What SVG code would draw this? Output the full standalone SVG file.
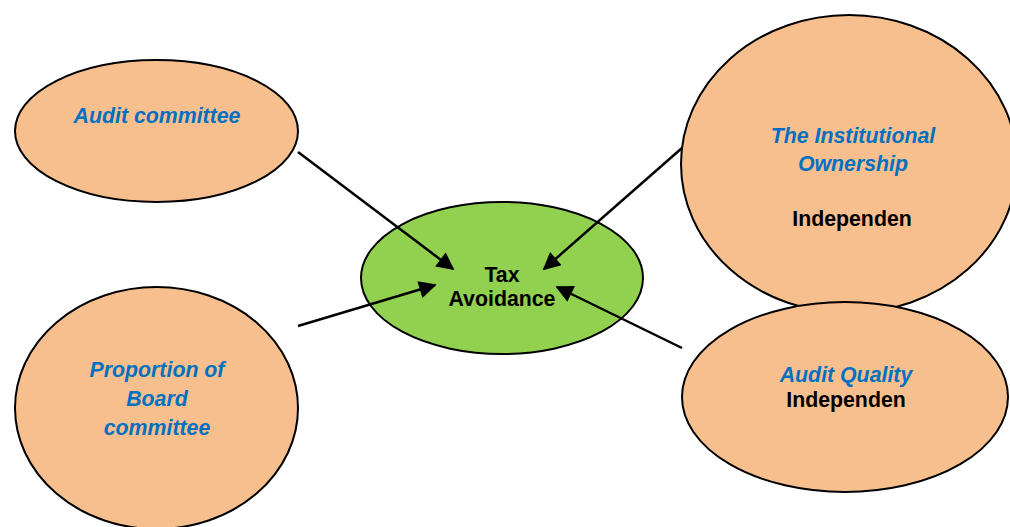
<svg xmlns="http://www.w3.org/2000/svg" width="1010" height="527" viewBox="0 0 1010 527">
<defs>
<style>
.orange{fill:#F8BF8E;stroke:#000;stroke-width:2}
.green{fill:#92D050;stroke:#000;stroke-width:2}
.blue{font-family:"Liberation Sans",Arial,sans-serif;font-size:21.3px;font-weight:bold;font-style:italic;fill:#0070C0;text-anchor:middle}
.black{font-family:"Liberation Sans",Arial,sans-serif;font-size:21.3px;font-weight:bold;fill:#000;text-anchor:middle}
.conn{stroke:#000;stroke-width:2.5;fill:none;marker-end:url(#ah)}
</style>
<marker id="ah" viewBox="0 0 10 10" refX="9" refY="5" markerWidth="8" markerHeight="7" markerUnits="strokeWidth" orient="auto">
<path d="M0,0 L10,5 L0,10 z" fill="#000"/>
</marker>
</defs>
<rect width="1010" height="527" fill="#fff"/>
<g id="node-audit-committee">
<ellipse class="orange" cx="156.5" cy="131" rx="141.5" ry="71"/>
<text class="blue" x="157" y="123">Audit committee</text>
</g>
<g id="node-proportion-board">
<ellipse class="orange" cx="156.5" cy="408" rx="141.5" ry="121"/>
<text class="blue" x="157" y="377">Proportion of</text>
<text class="blue" x="157" y="406">Board</text>
<text class="blue" x="157" y="435">committee</text>
</g>
<g id="node-institutional">
<ellipse class="orange" cx="849" cy="164" rx="168" ry="149"/>
<text class="blue" x="853" y="143">The Institutional</text>
<text class="blue" x="853" y="171">Ownership</text>
<text class="black" x="852" y="226">Independen</text>
</g>
<g id="node-audit-quality">
<ellipse class="orange" cx="845" cy="397" rx="163" ry="95"/>
<text class="blue" x="846" y="382">Audit Quality</text>
<text class="black" x="846" y="407">Independen</text>
</g>
<g id="node-tax-avoidance">
<ellipse class="green" cx="502" cy="278" rx="141" ry="76"/>
<text class="black" x="502" y="282">Tax</text>
<text class="black" x="502" y="306">Avoidance</text>
</g>
<g id="connectors">
<line class="conn" x1="298" y1="152" x2="453" y2="269"/>
<line class="conn" x1="298" y1="326" x2="435" y2="285"/>
<line class="conn" x1="682" y1="148" x2="544" y2="269"/>
<line class="conn" x1="682" y1="348" x2="557" y2="287"/>
</g>
</svg>
